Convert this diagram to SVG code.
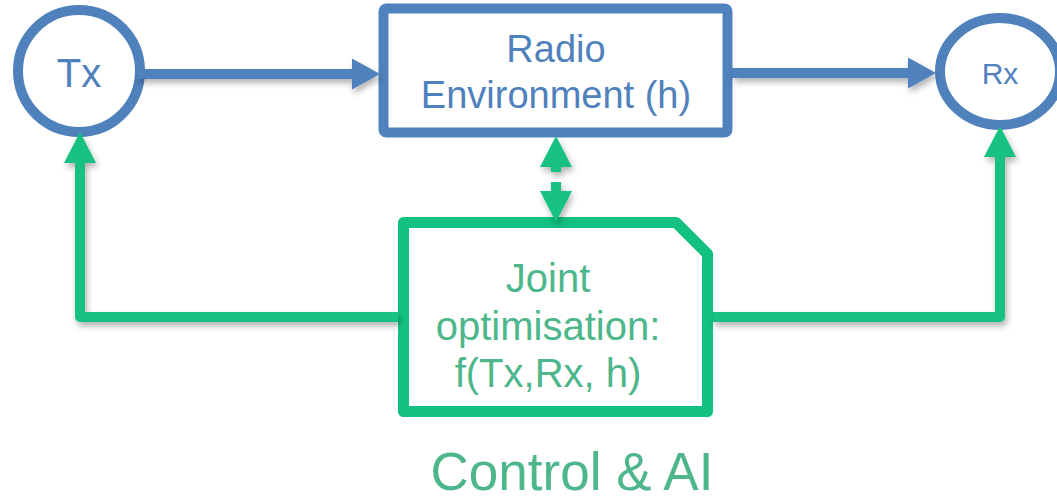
<svg xmlns="http://www.w3.org/2000/svg" width="1057" height="502" viewBox="0 0 1057 502">
  <defs>
    <style>
      .blue-node { fill: #ffffff; stroke: #4f81bd; stroke-width: 10; }
      .green-node { fill: #ffffff; stroke: #12c182; stroke-width: 11; stroke-linejoin: round; }
      .blue-text { fill: #4f81bd; font-family: "Liberation Sans", Arial, sans-serif; text-anchor: middle; }
      .green-text { fill: #4db68a; font-family: "Liberation Sans", Arial, sans-serif; text-anchor: middle; }
      .link-blue { fill: none; stroke: #4f81bd; stroke-width: 10; }
      .link-green { fill: none; stroke: #12c182; stroke-width: 10; stroke-linejoin: round; }
    </style>
    <filter id="shadow" x="-20%" y="-20%" width="140%" height="140%">
      <feDropShadow dx="2" dy="4" stdDeviation="3" flood-color="#000000" flood-opacity="0.3"/>
    </filter>
    <marker id="head-blue" markerUnits="userSpaceOnUse" markerWidth="28" markerHeight="31" refX="0" refY="15.5" orient="auto">
      <path d="M0,0 L28,15.5 L0,31 Z" fill="#4f81bd"/>
    </marker>
    <marker id="head-green" markerUnits="userSpaceOnUse" markerWidth="31" markerHeight="32" refX="0" refY="16" orient="auto">
      <path d="M0,0 L31,16 L0,32 Z" fill="#12c182"/>
    </marker>
  </defs>

  <rect width="1057" height="502" fill="#ffffff"/>

  <!-- transmitter -->
  <g id="tx">
    <circle class="blue-node" cx="79" cy="71" r="61"/>
    <text class="blue-text" x="79" y="87" font-size="40">Tx</text>
  </g>

  <!-- channel -->
  <g id="radio-environment">
    <rect class="blue-node" x="383.5" y="8.5" width="344" height="124" rx="3" stroke-width="11"/>
    <text class="blue-text" x="556" y="62" font-size="38">Radio</text>
    <text class="blue-text" x="556" y="108" font-size="38">Environment (h)</text>
  </g>

  <!-- receiver -->
  <g id="rx">
    <ellipse class="blue-node" cx="1000" cy="71.5" rx="60" ry="53.5"/>
    <text class="blue-text" x="1000" y="84" font-size="30">Rx</text>
  </g>

  <!-- optimiser -->
  <g id="joint-optimisation">
    <path class="green-node" d="M403.5,222.5 H676 L707.5,254 V411.5 H403.5 Z"/>
    <text class="green-text" x="548" y="292" font-size="40">Joint</text>
    <text class="green-text" x="548" y="340" font-size="40">optimisation:</text>
    <text class="green-text" x="548" y="387" font-size="40">f(Tx,Rx, h)</text>
  </g>

  <!-- caption -->
  <g id="caption">
    <text class="green-text" x="572" y="490" font-size="53">Control &amp; AI</text>
  </g>

  <!-- connectors -->
  <g id="connectors" filter="url(#shadow)">
    <path class="link-blue" d="M137,74 H352" marker-end="url(#head-blue)"/>
    <path class="link-blue" d="M732,73 H908" marker-end="url(#head-blue)"/>
    <path class="link-green" d="M398,317 H80 V163" marker-end="url(#head-green)"/>
    <path class="link-green" d="M713,317 H1000 V157" marker-end="url(#head-green)"/>
    <path class="link-green" d="M556,172 V167" stroke-width="11" marker-end="url(#head-green)"/>
    <path class="link-green" d="M556,182 V191" stroke-width="11" marker-end="url(#head-green)"/>
  </g>
</svg>
